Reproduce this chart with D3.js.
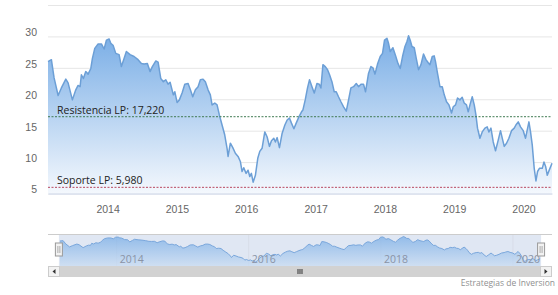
<!DOCTYPE html>
<html>
<head>
<meta charset="utf-8">
<script src="https://cdn.jsdelivr.net/npm/d3@7"></script>
<style>
  body { margin: 0; background: #fff; }
  svg { display: block; font-family: "Open Sans", "Liberation Sans", sans-serif; }
</style>
</head>
<body>
<script>
// fechas en años decimales
const dates = [
  2013.14, 2013.189, 2013.228, 2013.286, 2013.333, 2013.397, 2013.430, 2013.492, 2013.541, 2013.574,
  2013.603, 2013.622, 2013.651, 2013.685, 2013.719, 2013.758, 2013.781, 2013.815, 2013.863, 2013.911,
  2013.950, 2013.983, 2014.022, 2014.046, 2014.079, 2014.118, 2014.166, 2014.199, 2014.238, 2014.271,
  2014.325, 2014.382, 2014.440, 2014.488, 2014.527, 2014.574, 2014.613, 2014.646, 2014.696, 2014.729,
  2014.768, 2014.805, 2014.840, 2014.873, 2014.902, 2014.949, 2014.970, 2015.003, 2015.036, 2015.075,
  2015.114, 2015.162, 2015.195, 2015.229, 2015.267, 2015.306, 2015.339, 2015.378, 2015.411, 2015.450,
  2015.483, 2015.508, 2015.547, 2015.580, 2015.613, 2015.652, 2015.691, 2015.724, 2015.739, 2015.772,
  2015.807, 2015.844, 2015.883, 2015.916, 2015.941, 2015.965, 2015.999, 2016.027, 2016.052, 2016.075,
  2016.100, 2016.133, 2016.167, 2016.196, 2016.229, 2016.268, 2016.302, 2016.335, 2016.364, 2016.398,
  2016.421, 2016.446, 2016.479, 2016.518, 2016.557, 2016.590, 2016.623, 2016.652, 2016.687, 2016.720,
  2016.759, 2016.797, 2016.817, 2016.850, 2016.883, 2016.912, 2016.947, 2016.980, 2017.019, 2017.052,
  2017.076, 2017.105, 2017.139, 2017.172, 2017.201, 2017.235, 2017.268, 2017.297, 2017.330, 2017.365,
  2017.403, 2017.442, 2017.475, 2017.509, 2017.547, 2017.586, 2017.619, 2017.654, 2017.691, 2017.720,
  2017.763, 2017.798, 2017.827, 2017.856, 2017.893, 2017.932, 2017.965, 2017.994, 2018.029, 2018.052,
  2018.076, 2018.115, 2018.149, 2018.188, 2018.221, 2018.254, 2018.289, 2018.318, 2018.341, 2018.365,
  2018.390, 2018.423, 2018.452, 2018.485, 2018.520, 2018.557, 2018.592, 2018.625, 2018.649, 2018.683,
  2018.711, 2018.730, 2018.759, 2018.794, 2018.827, 2018.856, 2018.889, 2018.924, 2018.961, 2018.986,
  2019.019, 2019.048, 2019.082, 2019.115, 2019.144, 2019.177, 2019.202, 2019.227, 2019.260, 2019.289,
  2019.313, 2019.336, 2019.371, 2019.404, 2019.443, 2019.476, 2019.501, 2019.530, 2019.563, 2019.596,
  2019.635, 2019.668, 2019.693, 2019.722, 2019.755, 2019.789, 2019.827, 2019.866, 2019.890, 2019.924,
  2019.957, 2019.996, 2020.029, 2020.053, 2020.078, 2020.101, 2020.126, 2020.154, 2020.179, 2020.202,
  2020.229, 2020.270, 2020.294, 2020.318, 2020.342, 2020.366, 2020.41
];

const prices = [
  26.0, 26.3, 23.4, 20.6, 21.8, 23.2, 22.6, 19.9, 21.5, 22.2,
  22.0, 23.9, 23.3, 24.4, 24.0, 24.9, 26.5, 28.1, 28.8, 28.8,
  28.0, 29.4, 29.6, 28.9, 28.6, 27.3, 27.1, 25.2, 26.5, 27.6,
  27.1, 26.8, 26.3, 25.7, 25.6, 25.7, 24.4, 25.2, 26.1, 25.9,
  23.3, 22.8, 23.1, 22.4, 22.7, 20.7, 21.2, 19.5, 19.9, 21.0,
  22.4, 22.5, 21.5, 20.4, 21.5, 22.0, 23.1, 23.2, 22.8, 21.5,
  20.7, 19.1, 19.4, 19.1, 17.5, 15.9, 14.3, 12.2, 10.9, 13.0,
  12.3, 11.4, 10.9, 10.1, 8.5, 9.1, 8.2, 8.7, 7.7, 8.2,
  6.8, 7.9, 10.6, 11.7, 12.2, 14.8, 14.0, 12.5, 13.4, 13.8,
  13.2, 13.9, 12.3, 14.6, 15.9, 16.7, 17.0, 16.2, 15.3, 16.2,
  17.2, 18.0, 18.3, 19.9, 21.8, 23.1, 22.0, 21.0, 22.5, 22.4,
  21.8, 25.5, 25.2, 24.7, 23.9, 22.8, 21.2, 21.2, 20.4, 19.6,
  18.8, 18.1, 19.9, 21.8, 22.0, 22.5, 22.0, 22.4, 22.4, 21.2,
  24.1, 25.2, 25.0, 24.0, 25.6, 26.8, 27.3, 29.4, 29.7, 28.9,
  27.6, 28.2, 27.1, 25.7, 24.9, 26.8, 28.4, 29.2, 30.1, 29.4,
  28.4, 28.2, 26.5, 24.7, 25.5, 27.2, 26.3, 25.8, 25.5, 26.8,
  26.9, 26.0, 24.1, 22.0, 22.0, 20.7, 19.6, 19.1, 17.8, 18.8,
  19.1, 20.2, 19.9, 20.3, 19.4, 19.1, 18.0, 19.1, 20.4, 19.1,
  17.5, 15.4, 13.8, 14.8, 15.4, 15.6, 14.8, 15.4, 13.2, 11.8,
  13.5, 15.0, 13.8, 12.5, 13.0, 13.8, 15.0, 15.4, 15.9, 16.4,
  15.6, 15.0, 13.8, 15.1, 16.4, 14.8, 12.7, 9.0, 7.0, 8.5,
  9.0, 9.0, 10.0, 9.3, 7.9, 8.6, 9.8
];

const yTicks = [5, 10, 15, 20, 25, 30, 35];
const resistencia = 17.22;
const soporte = 5.98;
const navRange = [2012.96, 2020.59];

function toDate(y) {
  const yr = Math.floor(y);
  const a = new Date(yr, 0, 1), b = new Date(yr + 1, 0, 1);
  return new Date(+a + (y - yr) * (b - a));
}

const data = dates.map((d, i) => ({ date: toDate(d), value: prices[i] }));

const svgWidth = 558;
const svgHeight = 295;
const margin = { top: 5, right: 6, left: 48 };
const plotBottom = 193.5;

const svg = d3.select('body')
  .append('svg')
  .attr('width', svgWidth)
  .attr('height', svgHeight);

const defs = svg.append('defs');
const grad = defs.append('linearGradient')
  .attr('id', 'areaGrad')
  .attr('x1', 0).attr('y1', 0).attr('x2', 0).attr('y2', 1);
grad.append('stop').attr('offset', '0%').attr('stop-color', '#7aaee6');
grad.append('stop').attr('offset', '100%').attr('stop-color', '#f4f8fd');

const navGrad = defs.append('linearGradient')
  .attr('id', 'navGrad')
  .attr('x1', 0).attr('y1', 0).attr('x2', 0).attr('y2', 1);
navGrad.append('stop').attr('offset', '0%').attr('stop-color', '#7aaee6');
navGrad.append('stop').attr('offset', '100%').attr('stop-color', '#c9dcf2');

const xScale = d3.scaleTime()
  .domain(d3.extent(data, d => d.date))
  .range([margin.left, svgWidth - margin.right]);

const yScale = d3.scaleLinear()
  .domain([5, 35])
  .range([plotBottom, margin.top]);

// grid + y labels
const yAxis = svg.append('g')
  .attr('transform', `translate(${margin.left},0)`)
  .call(d3.axisLeft(yScale)
    .tickValues(yTicks)
    .tickSize(-(svgWidth - margin.right - margin.left))
    .tickFormat(d => d === 35 ? '' : d));
yAxis.select('.domain').remove();
yAxis.selectAll('line').attr('stroke', '#e6e6e6');
yAxis.selectAll('text')
  .attr('x', -11)
  .attr('dy', '-0.05em')
  .attr('fill', '#666')
  .style('font-size', '10.5px');

// area + line
const area = d3.area()
  .x(d => xScale(d.date))
  .y0(plotBottom)
  .y1(d => yScale(d.value));

const line = d3.line()
  .x(d => xScale(d.date))
  .y(d => yScale(d.value));

svg.append('path')
  .datum(data)
  .attr('d', area)
  .attr('fill', 'url(#areaGrad)');

svg.append('path')
  .datum(data)
  .attr('d', line)
  .attr('fill', 'none')
  .attr('stroke', '#6c9fd6')
  .attr('stroke-width', 1.5)
  .attr('stroke-linejoin', 'round');

// x axis
const xAxis = svg.append('g')
  .attr('transform', `translate(0,${plotBottom})`)
  .call(d3.axisBottom(xScale)
    .ticks(d3.timeYear.every(1))
    .tickFormat(d3.timeFormat('%Y'))
    .tickSize(0)
    .tickPadding(12));
xAxis.select('.domain').attr('stroke', '#ccd6eb');
xAxis.selectAll('text')
  .attr('fill', '#666')
  .style('font-size', '10.5px');

// niveles
const levels = [
  { value: resistencia, label: 'Resistencia LP: 17,220', color: '#3f7a52' },
  { value: soporte, label: 'Soporte LP: 5,980', color: '#b8475f' }
];
levels.forEach(l => {
  svg.append('line')
    .attr('x1', margin.left)
    .attr('x2', svgWidth - margin.right)
    .attr('y1', yScale(l.value))
    .attr('y2', yScale(l.value))
    .attr('stroke', l.color)
    .attr('stroke-width', 1)
    .attr('stroke-dasharray', '2,1.5');
  svg.append('text')
    .attr('x', 57)
    .attr('y', yScale(l.value) - 3)
    .attr('fill', '#222')
    .style('font-size', '10.5px')
    .text(l.label);
});

// navigator
const navTop = 234, navBottom = 266;
const xNav = d3.scaleTime()
  .domain(navRange.map(toDate))
  .range([margin.left, svgWidth - margin.right]);
const yNav = d3.scaleLinear()
  .domain(d3.extent(prices))
  .range([262, 236.5]);

const hLeft = xNav(data[0].date) - 1;
const hRight = xNav(data[data.length - 1].date) + 1;

svg.append('rect')
  .attr('x', hLeft).attr('y', navTop)
  .attr('width', hRight - hLeft).attr('height', navBottom - navTop)
  .attr('fill', 'rgba(102,133,194,0.2)');

const navYears = [2014, 2016, 2018, 2020].map(y => toDate(y));
svg.selectAll('.navgrid')
  .data(navYears)
  .enter()
  .append('line')
  .attr('x1', d => xNav(d)).attr('x2', d => xNav(d))
  .attr('y1', navTop).attr('y2', navBottom)
  .attr('stroke', '#d8dde8');

svg.append('path')
  .datum(data)
  .attr('d', d3.area().x(d => xNav(d.date)).y0(navBottom).y1(d => yNav(d.value)))
  .attr('fill', 'url(#navGrad)')
  .attr('fill-opacity', 0.75);
svg.append('path')
  .datum(data)
  .attr('d', d3.line().x(d => xNav(d.date)).y(d => yNav(d.value)))
  .attr('fill', 'none')
  .attr('stroke', '#7aa7dc')
  .attr('stroke-width', 1);

svg.selectAll('.navlabel')
  .data(navYears)
  .enter()
  .append('text')
  .attr('x', d => xNav(d) + 3)
  .attr('y', 263)
  .attr('fill', '#8a93a6')
  .style('font-size', '10.5px')
  .text(d => d3.timeFormat('%Y')(d));

svg.append('line')
  .attr('x1', margin.left).attr('x2', svgWidth - margin.right)
  .attr('y1', navTop + 0.5).attr('y2', navTop + 0.5)
  .attr('stroke', '#cccccc');

// handles
[hLeft, hRight].forEach(hx => {
  svg.append('rect')
    .attr('x', hx - 3.5).attr('y', 243)
    .attr('width', 7).attr('height', 13)
    .attr('fill', '#f2f2f2').attr('stroke', '#999');
  svg.append('path')
    .attr('d', `M${hx - 1},246V253M${hx + 1},246V253`)
    .attr('stroke', '#999').attr('stroke-width', 0.8);
});

// scrollbar
const sbY = 266, sbH = 11;
svg.append('rect')
  .attr('x', margin.left).attr('y', sbY)
  .attr('width', svgWidth - margin.right - margin.left).attr('height', sbH)
  .attr('fill', '#f2f2f2');
svg.append('rect')
  .attr('x', hLeft).attr('y', sbY)
  .attr('width', hRight - hLeft).attr('height', sbH)
  .attr('fill', '#d2d2d2');
[[margin.left, 'L'], [svgWidth - margin.right - 12, 'R']].forEach(([bx, dir]) => {
  svg.append('rect')
    .attr('x', bx + 0.5).attr('y', sbY + 0.5)
    .attr('width', 11).attr('height', sbH - 1)
    .attr('fill', '#f2f2f2').attr('stroke', '#cccccc');
  const cx = bx + 6, cy = sbY + sbH / 2;
  svg.append('path')
    .attr('d', dir === 'L'
      ? `M${cx + 1.5},${cy - 2.5}L${cx - 1.5},${cy}L${cx + 1.5},${cy + 2.5}Z`
      : `M${cx - 1.5},${cy - 2.5}L${cx + 1.5},${cy}L${cx - 1.5},${cy + 2.5}Z`)
    .attr('fill', '#333');
});
const rx = (hLeft + hRight) / 2;
svg.append('path')
  .attr('d', `M${rx - 2},${sbY + 3}V${sbY + 8}M${rx},${sbY + 3}V${sbY + 8}M${rx + 2},${sbY + 3}V${sbY + 8}`)
  .attr('stroke', '#333').attr('stroke-width', 1);

// credito
svg.append('text')
  .attr('x', 555)
  .attr('y', 286)
  .attr('text-anchor', 'end')
  .attr('fill', '#909090')
  .style('font-size', '8.5px')
  .text('Estrategias de Inversion');
</script>
</body>
</html>
